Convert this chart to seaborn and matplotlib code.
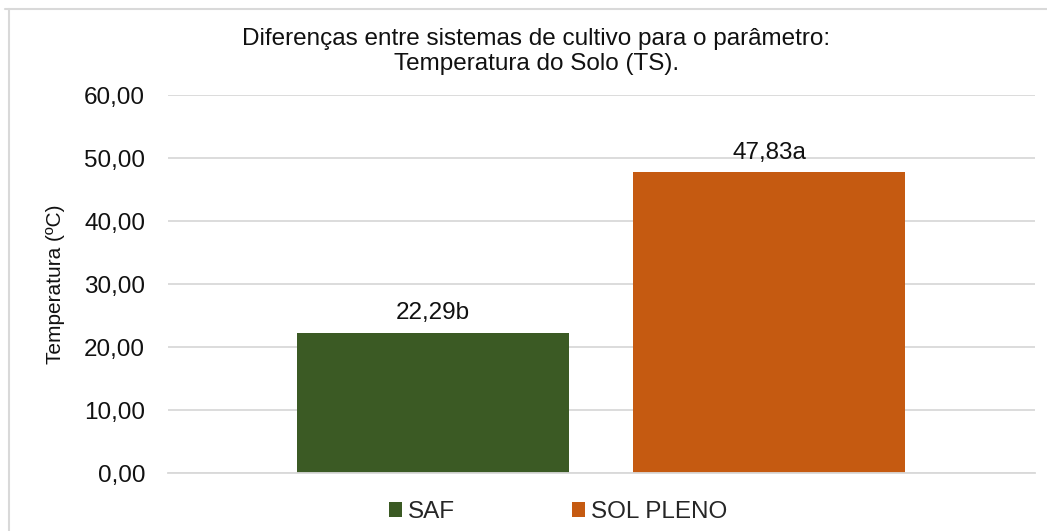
import pandas as pd
import matplotlib.pyplot as plt
import seaborn as sns
from matplotlib.lines import Line2D
from matplotlib.patches import Patch

# Dados
sistemas = ['SAF', 'SOL PLENO']
temperatura = [22.29, 47.83]
letras = ['b', 'a']
cores = ['#3B5A24', '#C55A11']

data = pd.DataFrame({'Sistema': sistemas, 'TS': temperatura})

sns.set_theme(style="white")
plt.rcParams['font.family'] = ['Liberation Sans', 'DejaVu Sans']

fig = plt.figure(figsize=(10.47, 5.31), dpi=100)
ax = fig.add_axes([0.1605, 0.109, 0.828, 0.712])

sns.barplot(data=data, x='Sistema', y='TS', hue='Sistema', palette=cores,
            width=0.81, legend=False, ax=ax, saturation=1)

for p in ax.patches:
    p.set_edgecolor('none')

for i, (v, l) in enumerate(zip(temperatura, letras)):
    ax.text(i, v + 1.3, f'{v:.2f}'.replace('.', ',') + l, ha='center', va='bottom',
            fontsize=17.5, color='#111111')

ax.set_ylim(0, 60)
ax.set_xlim(-0.789, 1.792)
ax.set_yticks(range(0, 61, 10))
ax.set_yticklabels([f'{t:.2f}'.replace('.', ',') for t in range(0, 61, 10)],
                   fontsize=17.5, color='#111111')
ax.set_xticks([])
ax.set_xlabel('')
ax.set_ylabel('Temperatura (ºC)', fontsize=15, color='#111111')
ax.yaxis.set_label_coords(-0.119, 0.5)
ax.tick_params(axis='y', length=0, pad=16.5)
ax.grid(axis='y', color='#D9D9D9', linewidth=1.3)
ax.set_axisbelow(True)
for s in ['top', 'right', 'left']:
    ax.spines[s].set_visible(False)
ax.spines['bottom'].set_color('#D9D9D9')
ax.spines['bottom'].set_linewidth(1.3)

fig.text(0.512, 0.903, 'Diferenças entre sistemas de cultivo para o parâmetro:\nTemperatura do Solo (TS).',
         ha='center', va='center', fontsize=17.5, linespacing=1.17, color='#111111')

handles = [Patch(facecolor=c, edgecolor='none') for c in cores]
fig.legend(handles, sistemas, loc='center', bbox_to_anchor=(0.533, 0.036), ncol=2,
           frameon=False, fontsize=17.5, handlelength=0.55, handleheight=0.55,
           handletextpad=0.25, columnspacing=4.8)

# moldura
fig.add_artist(Line2D([0.005, 1.0], [0.983, 0.983], color='#D9D9D9', lw=1.5))
fig.add_artist(Line2D([0.009, 0.009], [0.0, 0.983], color='#D9D9D9', lw=1.5))

fig.savefig('out.png', dpi=100)
